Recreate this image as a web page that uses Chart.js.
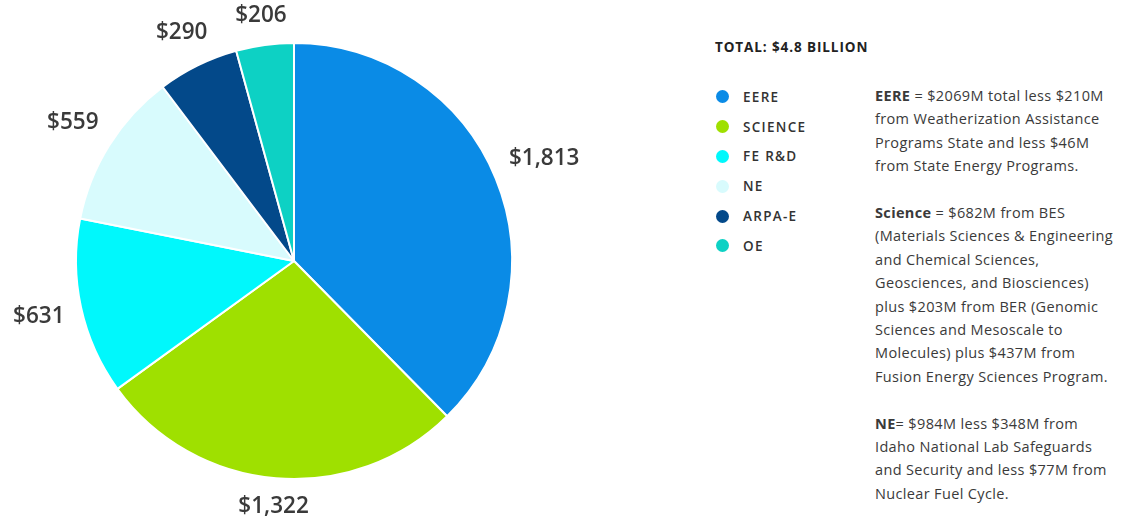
<!DOCTYPE html>
<html>
<head>
<meta charset="utf-8">
<script src="https://cdn.jsdelivr.net/npm/chart.js@4"></script>
<style>
  body { margin: 0; background: #fff; font-family: "Open Sans", sans-serif; color: #333; }
  #wrap { position: relative; width: 1140px; height: 519px; }
  #pieCanvas { position: absolute; left: 0; top: 0; }
  #legend { position: absolute; left: 715px; top: 38px; }
  #legend .title { font-weight: 700; font-size: 13.5px; letter-spacing: 0.9px; color: #222; margin-bottom: 26px; white-space: nowrap; }
  #legend .item { height: 29.8px; display: flex; align-items: center; font-size: 13.5px; font-weight: 600; letter-spacing: 1.3px; color: #333; }
  #legend .dot { width: 13px; height: 13px; border-radius: 50%; margin-right: 14px; margin-left: 1px; }
  #notes { position: absolute; left: 875px; top: 84px; width: 265px; font-size: 14.5px; line-height: 23.4px; color: #3a3a3a; white-space: nowrap; letter-spacing: 0.35px; }
  #notes p { margin: 0 0 23.4px 0; }
</style>
</head>
<body>
<div id="wrap">
  <canvas id="pieCanvas" width="600" height="519"></canvas>
  <div id="legend"></div>
  <div id="notes">
    <p><b>EERE</b> = $2069M total less $210M<br>from Weatherization Assistance<br>Programs State and less $46M<br>from State Energy Programs.</p>
    <p><b>Science</b> = $682M from BES<br>(Materials Sciences &amp; Engineering<br>and Chemical Sciences,<br>Geosciences, and Biosciences)<br>plus $203M from BER (Genomic<br>Sciences and Mesoscale to<br>Molecules) plus $437M from<br>Fusion Energy Sciences Program.</p>
    <p><b>NE</b>= $984M less $348M from<br>Idaho National Lab Safeguards<br>and Security and less $77M from<br>Nuclear Fuel Cycle.</p>
  </div>
</div>
<script>
let programs = ["EERE", "SCIENCE", "FE R&D", "NE", "ARPA-E", "OE"];
let funding = [1813, 1322, 631, 559, 290, 206];
let sliceColors = ["#0a8be6", "#9fe000", "#00f8fc", "#d8fbfd", "#03498a", "#0dd1c4"];
let totalLabel = "TOTAL: $4.8 BILLION";

function money(v) {
    return "$" + v.toLocaleString("en-US");
}

// labels outside each slice
const outsideLabels = {
    id: "outsideLabels",
    afterDatasetsDraw(chart) {
        let ctx = chart.ctx;
        let meta = chart.getDatasetMeta(0);
        ctx.save();
        ctx.font = "600 22.5px 'Open Sans'";
        ctx.fillStyle = "#3a3a3a";
        ctx.textAlign = "center";
        ctx.textBaseline = "middle";
        meta.data.forEach((arc, i) => {
            let p = arc.getProps(["x", "y", "startAngle", "endAngle", "outerRadius"], true);
            let mid = (p.startAngle + p.endAngle) / 2;
            let text = money(funding[i]);
            let w = ctx.measureText(text).width;
            let cx = Math.cos(mid), cy = Math.sin(mid);
            let r = p.outerRadius + 16 + Math.abs(cx) * w / 2 + Math.abs(cy) * 10;
            ctx.fillText(text, p.x + cx * r, p.y + cy * r);
        });
        ctx.restore();
    }
};

let ctx = document.getElementById("pieCanvas").getContext("2d");
let chart = new Chart(ctx, {
    type: "pie",
    data: {
        labels: programs,
        datasets: [{
            data: funding,
            backgroundColor: sliceColors,
            borderColor: "#ffffff",
            borderWidth: 2
        }]
    },
    options: {
        responsive: false,
        animation: false,
        layout: { padding: { top: 42, bottom: 39, left: 40, right: 52 } },
        plugins: {
            legend: { display: false },
            tooltip: { enabled: false }
        }
    },
    plugins: [outsideLabels]
});

// html legend built from the same arrays
let legend = document.getElementById("legend");
let title = document.createElement("div");
title.className = "title";
title.textContent = totalLabel;
legend.appendChild(title);
programs.forEach((name, i) => {
    let item = document.createElement("div");
    item.className = "item";
    item.innerHTML = '<span class="dot" style="background:' + sliceColors[i] + '"></span>' + name;
    legend.appendChild(item);
});
</script>
</body>
</html>
